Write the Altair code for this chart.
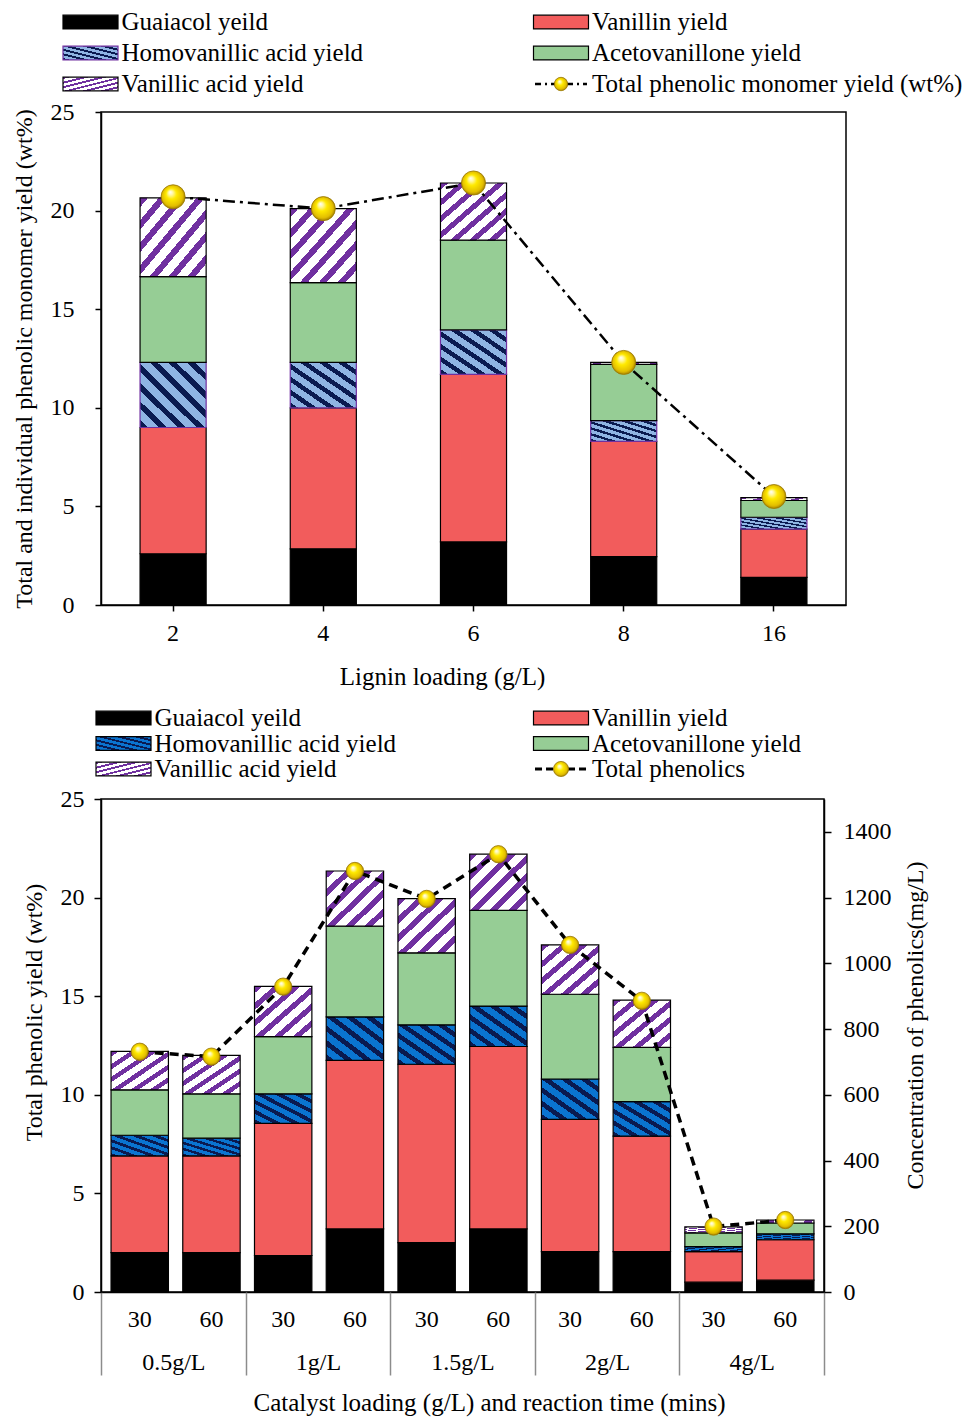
import altair as alt
import pandas as pd

FONT = "Liberation Serif"

species = ["Guaiacol yeild", "Vanillin yield", "Homovanillic acid yield",
           "Acetovanillone yield", "Vanillic acid yield"]

# ---------------- top panel (lignin loading) ----------------
lignin_loading = ["2", "4", "6", "8", "16"]
top_guaiacol = [2.6, 2.85, 3.2, 2.45, 1.4]
top_vanillin = [6.4, 7.15, 8.5, 5.85, 2.45]
top_homovanillic = [3.3, 2.3, 2.25, 1.05, 0.6]
top_acetovanillone = [4.35, 4.05, 4.55, 2.85, 0.85]
top_vanillic = [4.0, 3.75, 2.9, 0.1, 0.15]
top_total = [20.7, 20.1, 21.4, 12.3, 5.5]

# ---------------- bottom panel (catalyst loading x time) ----------------
catalyst_loading = ["0.5g/L", "1g/L", "1.5g/L", "2g/L", "4g/L"]
reaction_time = ["30", "60"]
bot_guaiacol = [2.0, 2.0, 1.85, 3.2, 2.5, 3.2, 2.05, 2.05, 0.5, 0.6]
bot_vanillin = [4.9, 4.9, 6.7, 8.55, 9.05, 9.25, 6.7, 5.85, 1.55, 2.05]
bot_homovanillic = [1.05, 0.9, 1.5, 2.2, 2.0, 2.05, 2.05, 1.75, 0.25, 0.3]
bot_acetovanillone = [2.3, 2.25, 2.9, 4.6, 3.65, 4.85, 4.3, 2.75, 0.7, 0.55]
bot_vanillic = [1.95, 1.95, 2.55, 2.8, 2.75, 2.85, 2.5, 2.4, 0.3, 0.15]
bot_total_mgL = [731, 716, 929, 1281, 1196, 1332, 1056, 886, 199, 219]

legend_top_labels = species + ["Total phenolic monomer yield (wt%)"]
legend_bot_labels = species + ["Total phenolics"]

# ---------------- tables ----------------
top_series = [top_guaiacol, top_vanillin, top_homovanillic, top_acetovanillone, top_vanillic]
top_long = pd.DataFrame([
    {"cat": c, "species": s, "k": k, "val": vals[i]}
    for k, (s, vals) in enumerate(zip(species, top_series))
    for i, c in enumerate(lignin_loading)
])
top_tot = pd.DataFrame({"cat": lignin_loading, "total": top_total})

keys = [f"{c}|{t}" for c in catalyst_loading for t in reaction_time]
bot_series = [bot_guaiacol, bot_vanillin, bot_homovanillic, bot_acetovanillone, bot_vanillic]
bot_long = pd.DataFrame([
    {"key": key, "species": s, "k": k, "val": vals[i]}
    for k, (s, vals) in enumerate(zip(species, bot_series))
    for i, key in enumerate(keys)
])
bot_tot = pd.DataFrame({"key": keys, "mgL": bot_total_mgL})
grp_df = pd.DataFrame({"grp": catalyst_loading, "t": [""] * len(catalyst_loading)})


def legend_df(labels):
    rows = []
    for i, lab in enumerate(labels):
        rows.append({"species": lab, "col": i % 2, "row": i // 2,
                     "kind": "total" if i == len(labels) - 1 else "bar"})
    return pd.DataFrame(rows)


# ---------------- styles ----------------
def stripes(bg, fg, n, direction, frac=0.42):
    stops = []
    for i in range(n):
        a, b, c = i / n, (i + frac) / n, (i + 1) / n
        stops += [{"offset": a, "color": fg}, {"offset": b, "color": fg},
                  {"offset": b, "color": bg}, {"offset": c, "color": bg}]
    if direction == "/":
        x1, y1, x2, y2 = 0, 0, 1, 1
    else:
        x1, y1, x2, y2 = 0, 1, 1, 0
    return {"gradient": "linear", "x1": x1, "y1": y1, "x2": x2, "y2": y2, "stops": stops}


SPHERE = {"gradient": "radial", "x1": 0.38, "y1": 0.3, "r1": 0.0,
          "x2": 0.5, "y2": 0.5, "r2": 0.55,
          "stops": [{"offset": 0.0, "color": "#ffffff"},
                    {"offset": 0.18, "color": "#fff7a0"},
                    {"offset": 0.4, "color": "#ffea00"},
                    {"offset": 0.78, "color": "#e2bd00"},
                    {"offset": 1.0, "color": "#876400"}]}

VANILLIN = "#f25c5c"
ACETO = "#96cd95"


def fills(homo_bg, n):
    return ["#000000", VANILLIN, stripes(homo_bg, "#0a1a50", n, "\\"), ACETO,
            stripes("#ffffff", "#7030a0", n, "/")]


def fill_enc(fl):
    w = alt.when(alt.datum.species == species[0]).then(alt.value(fl[0]))
    for s, f in zip(species[1:4], fl[1:4]):
        w = w.when(alt.datum.species == s).then(alt.value(f))
    return w.otherwise(alt.value(fl[4]))


def stroke_enc(homo_stroke):
    return alt.when(alt.datum.species == species[2]).then(
        alt.value(homo_stroke)).otherwise(alt.value("black"))


RECT = "M-1,-0.25H1V0.25H-1Z"
LINE = "M-1,0L1,0"

TOP_FILLS = fills("#8fb4e3", 7)
BOT_FILLS = fills("#0a74d0", 6)
LEG_FILLS_TOP = fills("#8fb4e3", 6)
LEG_FILLS_BOT = fills("#0a74d0", 6)

ax_common = dict(grid=False, domainColor="black", domainWidth=1.5, tickColor="black",
                 tickWidth=1.5, labelFont=FONT, titleFont=FONT, labelFontSize=24,
                 titleFontWeight="normal", labelColor="black", titleColor="black")

# ---------------- top chart ----------------
x_top = alt.X("cat:N", sort=lignin_loading,
              scale=alt.Scale(paddingInner=0.56, paddingOuter=0.26),
              axis=alt.Axis(title="Lignin loading (g/L)", labelAngle=0, tickSize=6,
                            labelPadding=10, titlePadding=19, titleFontSize=25,
                            titleX=341, titleAlign="center", **ax_common))
y_axis_top = alt.Axis(title="Total and individual phenolic monomer yield (wt%)",
                      values=[0, 5, 10, 15, 20, 25], tickSize=6, labelPadding=21,
                      titlePadding=14, titleFontSize=24, **ax_common)
y_scale_top = alt.Scale(domain=[0, 25], nice=False)

bars_top = alt.Chart(top_long).mark_bar(strokeWidth=1.2).encode(
    x=x_top,
    y=alt.Y("val:Q", stack="zero", scale=y_scale_top, axis=y_axis_top),
    detail="species:N",
    order=alt.Order("k:Q", sort="ascending"),
    fill=fill_enc(TOP_FILLS),
    stroke=stroke_enc("#7030a0"),
)
line_top = alt.Chart(top_tot).mark_line(color="black", strokeWidth=2.5,
                                        strokeDash=[12, 5, 3, 5]).encode(
    x=x_top, y=alt.Y("total:Q", scale=y_scale_top, axis=y_axis_top))
pts_top = alt.Chart(top_tot).mark_point(shape="circle", filled=True, size=580, fill=SPHERE,
                                        stroke="#9a7a00", strokeWidth=0.8, opacity=1).encode(
    x=x_top, y=alt.Y("total:Q", scale=y_scale_top, axis=y_axis_top))

top_chart = alt.layer(bars_top, line_top, pts_top).properties(
    width=745, height=493, view=alt.ViewBackground(stroke="black", strokeWidth=1.5))

# ---------------- bottom chart ----------------
x_bot = alt.X("key:N", sort=keys, title=None,
              scale=alt.Scale(paddingInner=0.2, paddingOuter=0.14),
              axis=alt.Axis(labelExpr="split(datum.label, '|')[1]", labelAngle=0,
                            ticks=False, tickSize=0, labelPadding=15, **ax_common))
y_scale_bot = alt.Scale(domain=[0, 25], nice=False)
y_scale_mg = alt.Scale(domain=[0, 1500], nice=False)

bars_bot = alt.Chart(bot_long).mark_bar(stroke="black", strokeWidth=1.2).encode(
    x=x_bot,
    y=alt.Y("val:Q", stack="zero", scale=y_scale_bot,
            axis=alt.Axis(title="Total phenolic  yield (wt%)", values=[0, 5, 10, 15, 20, 25],
                          tickSize=7, labelPadding=10, titlePadding=14, titleFontSize=24,
                          titleY=213, **ax_common)),
    detail="species:N",
    order=alt.Order("k:Q", sort="ascending"),
    fill=fill_enc(BOT_FILLS),
)
line_bot = alt.Chart(bot_tot).mark_line(color="black", strokeWidth=3.5,
                                        strokeDash=[9, 6]).encode(
    x=x_bot,
    y=alt.Y("mgL:Q", scale=y_scale_mg,
            axis=alt.Axis(orient="right", title="Concentration of phenolics(mg/L)",
                          values=[0, 200, 400, 600, 800, 1000, 1200, 1400], format="d",
                          tickSize=7, labelPadding=12, titlePadding=12, titleFontSize=24,
                          titleAngle=270, titleBaseline="top", titleY=226, **ax_common)))
pts_bot = alt.Chart(bot_tot).mark_point(shape="circle", filled=True, size=300, fill=SPHERE,
                                        stroke="#9a7a00", strokeWidth=0.8, opacity=1).encode(
    x=x_bot, y=alt.Y("mgL:Q", scale=y_scale_mg, axis=None))

inner_bot = alt.layer(bars_bot, line_bot, pts_bot).resolve_scale(y="independent")

grp_axis = dict(ax_common)
grp_axis.update(tickColor="#8c8c8c")
grp_layer = alt.Chart(grp_df).mark_text(text="").encode(
    x=alt.X("grp:N", sort=catalyst_loading,
            scale=alt.Scale(paddingInner=0, paddingOuter=0),
            axis=alt.Axis(orient="bottom", title="Catalyst loading (g/L) and reaction time (mins)",
                          tickBand="extent", tickSize=83, domain=False, labelAngle=0,
                          labelPadding=-25, titlePadding=15, titleFontSize=25,
                          titleX=388, titleAlign="center", **grp_axis)))

# invisible spacer: reserves the left margin shared by both panels
spacer = alt.Chart(pd.DataFrame({"s": [" "]})).mark_text(fontSize=8).encode(
    text="s:N", x=alt.value(-92), y=alt.value(0))

bot_chart = alt.layer(inner_bot, grp_layer, spacer).resolve_scale(
    x="independent", y="independent").properties(
    width=723, height=493, view=alt.ViewBackground(stroke="black", strokeWidth=1.5))


# ---------------- legends ----------------
def legend_chart(labels, xr, yr, height, leg_fills, homo_stroke, circle_size, dash, line_w):
    df = legend_df(labels)
    x = alt.X("col:O", scale=alt.Scale(type="point", range=xr, padding=0), axis=None)
    y = alt.Y("row:O", scale=alt.Scale(type="point", range=yr, padding=0), axis=None)
    sw = alt.Chart(df).transform_filter(alt.datum.kind == "bar").mark_point(
        shape=RECT, size=3025, filled=True, opacity=1, strokeWidth=1.2).encode(
        x=x, y=y, fill=fill_enc(leg_fills), stroke=stroke_enc(homo_stroke))
    ln = alt.Chart(df).transform_filter(alt.datum.kind == "total").mark_point(
        shape=LINE, size=2700, filled=False, stroke="black", strokeWidth=line_w,
        strokeDash=dash, opacity=1).encode(x=x, y=y)
    cc = alt.Chart(df).transform_filter(alt.datum.kind == "total").mark_point(
        shape="circle", filled=True, size=circle_size, fill=SPHERE, stroke="#9a7a00",
        strokeWidth=0.8, opacity=1).encode(x=x, y=y)
    tx = alt.Chart(df).mark_text(align="left", baseline="middle", dx=31, font=FONT,
                                 fontSize=25, color="black").encode(x=x, y=y, text="species:N")
    return alt.layer(sw, ln, cc, tx).properties(
        width=700, height=height, view=alt.ViewBackground(stroke="transparent"))


leg_top = legend_chart(legend_top_labels, [-10.5, 460], [13, 75], 89, LEG_FILLS_TOP,
                       "#7030a0", 180, [6, 4, 2, 4], 2.5)
leg_bot = legend_chart(legend_bot_labels, [22.5, 460], [27, 78], 94, LEG_FILLS_BOT,
                       "black", 230, [7, 4], 3)

chart = alt.vconcat(leg_top, top_chart, leg_bot, bot_chart, spacing=0).properties(
    padding=0).configure(font=FONT)

chart.save("out.html", embed_options={"renderer": "svg", "actions": False})
